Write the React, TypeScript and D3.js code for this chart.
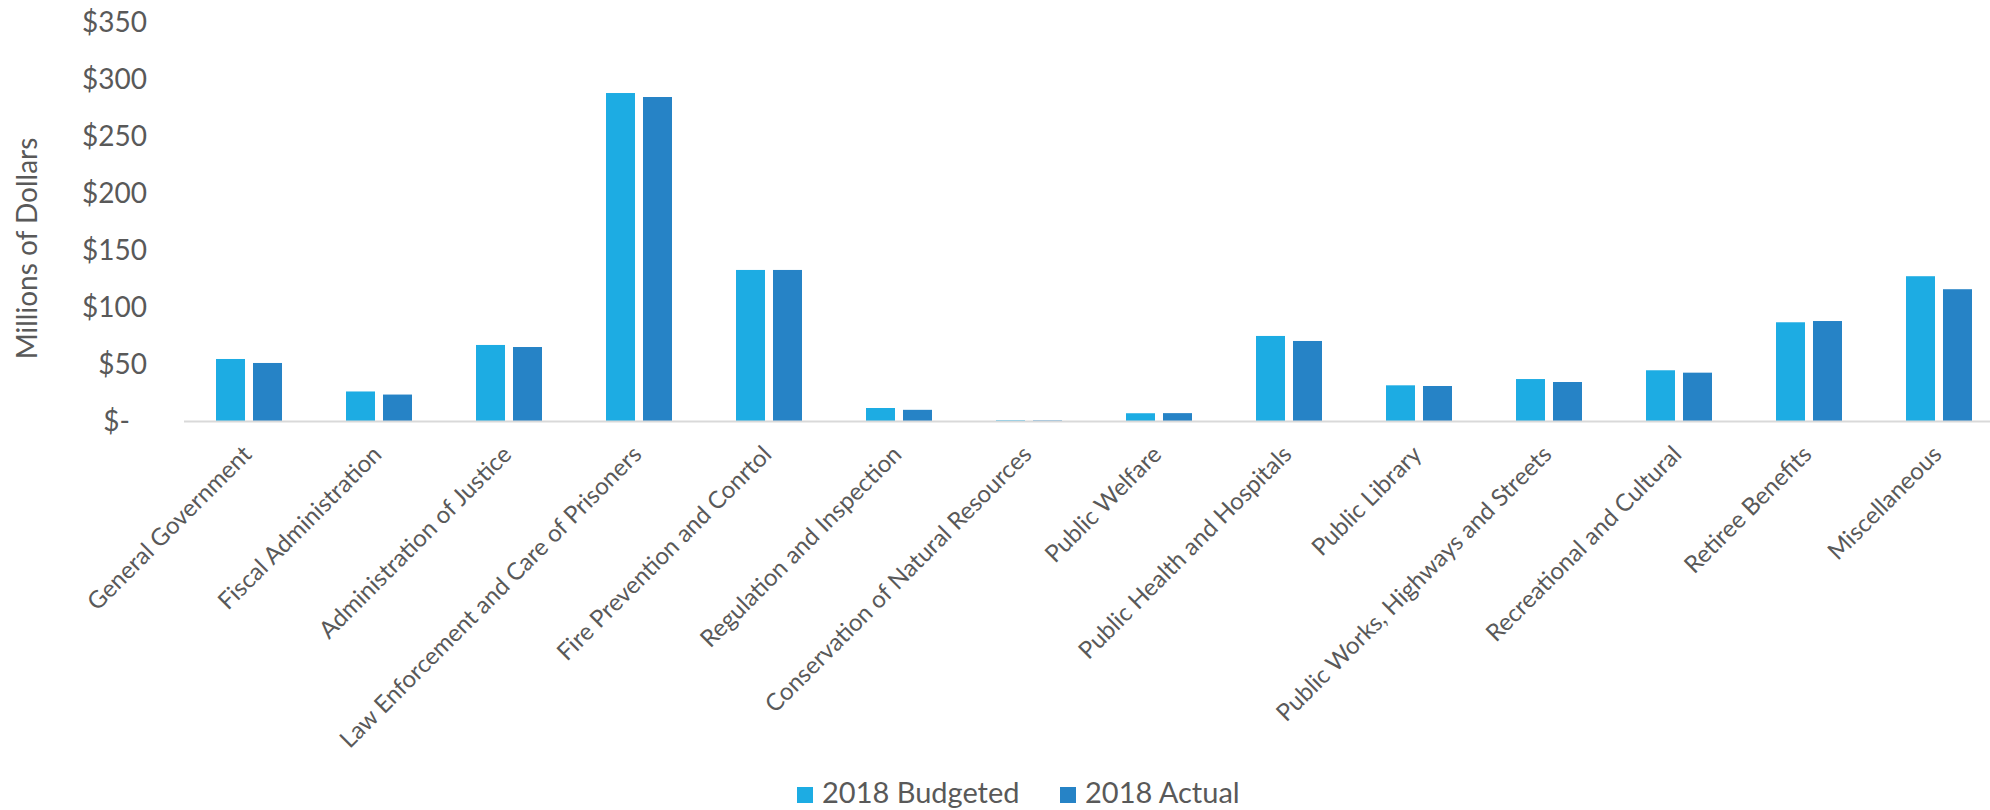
import * as d3 from 'd3';

const categories = [
  'General Government',
  'Fiscal Administration',
  'Administration of Justice',
  'Law Enforcement and Care of Prisoners',
  'Fire Prevention and Conrtol',
  'Regulation and Inspection',
  'Conservation of Natural Resources',
  'Public Welfare',
  'Public Health and Hospitals',
  'Public Library',
  'Public Works, Highways and Streets',
  'Recreational and Cultural',
  'Retiree Benefits',
  'Miscellaneous',
];

const seriesNames = ['2018 Budgeted', '2018 Actual'];
const budgeted = [54.4, 25.9, 66.7, 287.7, 132.5, 11.4, 0.6, 6.8, 74.6, 31.3, 36.8, 44.5, 86.6, 127.0];
const actual = [50.9, 23.2, 64.9, 284.2, 132.5, 9.8, 0.5, 6.9, 70.2, 30.7, 34.2, 42.4, 87.7, 115.6];
const yTicks = [0, 50, 100, 150, 200, 250, 300, 350];

const colors = ['#1dace3', '#2683c6'];
const textColor = '#595959';
const font = 'Lato, "Open Sans", sans-serif';

const W = 1990;
const H = 810;
const plot = { left: 184, right: 2004, top: 22, bottom: 421 };

export default function App() {
  const x0 = d3
    .scaleBand<string>()
    .domain(categories)
    .range([plot.left, plot.right])
    .paddingInner(0.4923)
    .paddingOuter(0.2462);
  const x1 = d3.scaleBand<string>().domain(seriesNames).range([0, x0.bandwidth()]).paddingInner(0.2162);
  const y = d3.scaleLinear().domain([0, 350]).range([plot.bottom, plot.top]);
  const values = [budgeted, actual];
  const fmt = (v: number) => (v === 0 ? '$-' : `$${v}`);
  const legendX = [797, 1060];

  return (
    <svg
      width={W}
      height={H}
      style={{ position: 'absolute', left: 0, top: 0, background: '#fff' }}
      fontFamily={font}
    >
      {/* y tick labels */}
      {yTicks.map((t) => (
        <text
          key={t}
          x={147}
          dx={t === 0 ? -17 : 0}
          y={y(t)}
          dy="0.35em"
          textAnchor="end"
          fontSize={28}
          fill={textColor}
        >
          {fmt(t)}
        </text>
      ))}
      <text
        transform={`translate(37,${(plot.top + plot.bottom) / 2 + 27}) rotate(-90)`}
        textAnchor="middle"
        fontSize={28}
        fill={textColor}
      >
        Millions of Dollars
      </text>

      {/* bars */}
      {categories.map((c, i) => (
        <g key={c} transform={`translate(${x0(c)},0)`}>
          {seriesNames.map((s, si) => (
            <rect
              key={s}
              x={x1(s)}
              y={y(values[si][i])}
              width={x1.bandwidth()}
              height={plot.bottom - y(values[si][i])}
              fill={colors[si]}
            />
          ))}
        </g>
      ))}

      {/* x axis line */}
      <line x1={plot.left} x2={plot.right} y1={plot.bottom + 0.5} y2={plot.bottom + 0.5} stroke="#d9d9d9" strokeWidth={2} />

      {/* category labels */}
      {categories.map((c) => (
        <text
          key={c}
          transform={`translate(${(x0(c) ?? 0) + x0.bandwidth() / 2 + 4},${plot.bottom + 35}) rotate(-45)`}
          textAnchor="end"
          fontSize={24}
          fill={textColor}
        >
          {c}
        </text>
      ))}

      {/* legend */}
      {seriesNames.map((s, si) => (
        <g key={s} transform={`translate(${legendX[si]},787)`}>
          <rect width={16} height={16} fill={colors[si]} />
          <text x={25} y={16} fontSize={29} fill={textColor}>
            {s}
          </text>
        </g>
      ))}
    </svg>
  );
}
